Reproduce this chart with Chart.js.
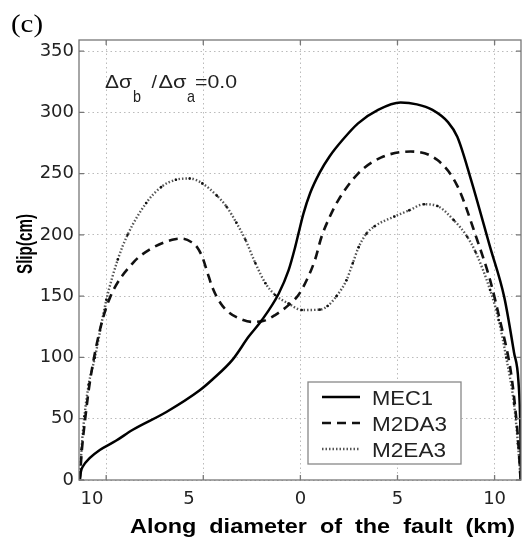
<!DOCTYPE html>
<html>
<head>
<meta charset="utf-8">
<script src="https://cdn.jsdelivr.net/npm/chart.js@4.4.0/dist/chart.umd.min.js"></script>
<style>
  html, body { margin: 0; padding: 0; background: #fff; }
  #wrap { width: 525px; height: 541px; }
</style>
</head>
<body>
<div id="wrap"><canvas id="slipChart" width="525" height="541"></canvas></div>
<script>
// along-diameter position (km) and slip (cm) for each model
const mec1X = [-11.36, -11.3, -11.2, -10.84, -10.33, -9.5, -8.63, -6.9, -5.2, -4.53, -3.5, -2.66, -1.98, -1.12, -0.61, -0.27, -0.1, 0.15, 0.5, 1.0, 1.5, 2.2, 2.97, 4.0, 5.16, 6.0, 6.8, 7.6, 8.08, 8.75, 9.77, 10.5, 11.0, 11.23, 11.33, 11.36];
const mec1Y = [0, 7, 11, 18, 24.5, 32, 41, 55.5, 73, 82, 98, 117, 130.5, 152, 171, 190, 201, 217, 234, 251, 264, 278, 291, 302, 308, 306.5, 302, 292, 280, 247, 190, 149, 104, 80, 40, 0];

const m2daX = [-11.36, -11.25, -11.08, -10.84, -10.33, -9.8, -8.63, -7.77, -6.6, -6.1, -5.6, -5.3, -5.05, -4.8, -4.53, -4.1, -3.7, -3.1, -2.5, -1.98, -1.3, -0.61, -0.1, 0.32, 0.75, 1.09, 1.52, 1.94, 2.97, 4.14, 5.67, 7.06, 8.08, 9.1, 9.77, 10.28, 10.8, 11.0, 11.2, 11.34];
const m2daY = [0, 25, 50, 80, 122, 149, 177, 188, 196, 197, 194, 189.5, 182, 170, 157, 144, 137, 131.5, 129, 129.5, 134.6, 142.7, 151, 163, 179.5, 198.5, 215, 228, 250, 263, 268, 261, 240, 196, 163, 130, 92, 68, 35, 0];

const m2eaX = [-11.36, -11.27, -11.12, -10.9, -10.58, -9.99, -9.4, -8.9, -7.94, -7.17, -6.41, -5.7, -5.05, -4.3, -3.8, -3.3, -2.83, -2.32, -1.8, -1.3, -0.61, 0.07, 1.0, 1.4, 1.86, 2.37, 2.7, 3.0, 3.4, 3.82, 4.84, 5.6, 6.37, 7.06, 7.9, 8.59, 9.02, 9.77, 10.21, 10.6, 11.0, 11.2, 11.34];
const m2eaY = [0, 25, 52, 78, 100, 147, 180, 200, 226, 239, 245, 246, 242, 232, 223, 210, 196, 177, 160.5, 151, 144, 138.7, 139, 142, 150, 163, 177, 190, 201, 207, 215, 220, 225, 223.5, 212, 198.5, 186, 155, 130.5, 100, 62, 30, 0];

const seriesNames = ['MEC1', 'M2DA3', 'M2EA3'];
const xTicks = [-10, -5, 0, 5, 10];
const yTicks = [0, 50, 100, 150, 200, 250, 300, 350];

const toPoints = (xs, ys) => xs.map((x, i) => ({ x, y: ys[i] }));

// draw text squeezed/stretched to a given width
const drawText = (ctx, str, x, y, font, width, align = 'left') => {
    ctx.save();
    ctx.font = font;
    const w = ctx.measureText(str).width;
    ctx.translate(x, y);
    ctx.scale(width ? width / w : 1, 1);
    ctx.textAlign = align;
    ctx.textBaseline = 'alphabetic';
    ctx.fillText(str, 0, 0);
    ctx.restore();
};

const framePlugin = {
    id: 'frame',
    afterDraw(chart) {
        const { ctx, chartArea: a, scales } = chart;
        ctx.save();
        ctx.strokeStyle = '#777';
        ctx.lineWidth = 1.3;
        ctx.strokeRect(a.left, a.top, a.right - a.left, a.bottom - a.top);
        ctx.beginPath();
        xTicks.forEach(v => {
            const px = scales.x.getPixelForValue(v);
            ctx.moveTo(px, a.bottom); ctx.lineTo(px, a.bottom - 5);
            ctx.moveTo(px, a.top); ctx.lineTo(px, a.top + 5);
        });
        yTicks.forEach(v => {
            const py = scales.y.getPixelForValue(v);
            ctx.moveTo(a.left, py); ctx.lineTo(a.left + 5, py);
            ctx.moveTo(a.right, py); ctx.lineTo(a.right - 5, py);
        });
        ctx.stroke();

        // legend box
        ctx.fillStyle = '#fff';
        ctx.fillRect(308, 382, 153, 82);
        ctx.strokeStyle = '#888';
        ctx.lineWidth = 1.3;
        ctx.strokeRect(308, 382, 153, 82);
        const rows = [397, 423, 449];
        const widths = [61, 75, 74];
        chart.data.datasets.forEach((ds, i) => {
            ctx.save();
            ctx.strokeStyle = ds.borderColor;
            ctx.lineWidth = ds.borderWidth;
            ctx.setLineDash(ds.borderDash || []);
            ctx.beginPath();
            ctx.moveTo(322, rows[i]);
            ctx.lineTo(360, rows[i]);
            ctx.stroke();
            ctx.restore();
            ctx.fillStyle = '#222';
            drawText(ctx, seriesNames[i], 372, rows[i] + 8, '21px "Liberation Sans", Arial', widths[i]);
        });

        // texts
        ctx.fillStyle = '#000';
        drawText(ctx, '(c)', 11, 32, '26px "Liberation Serif", "Times New Roman"', 32);
        drawText(ctx, 'Along  diameter  of  the  fault  (km)', 130, 533, 'bold 21px "Liberation Sans", Arial', 385);

        ctx.save();
        ctx.translate(32, 244);
        ctx.rotate(-Math.PI / 2);
        drawText(ctx, 'Slip(cm)', 0, 0, 'bold 22px "Liberation Sans", Arial', 60, 'center');
        ctx.restore();

        ctx.fillStyle = '#222';
        const f = '18px "Liberation Sans", Arial';
        const fs = '17px "Liberation Sans", Arial';
        drawText(ctx, 'Δσ', 105, 87.5, f, 27);
        drawText(ctx, 'b', 133, 102, fs, 8);
        drawText(ctx, '/', 151.5, 87.5, f, 5.5);
        drawText(ctx, 'Δσ', 158.5, 87.5, f, 28);
        drawText(ctx, 'a', 187, 102, fs, 8);
        drawText(ctx, '=0.0', 195, 87.5, f, 42);
        ctx.restore();
    }
};

const ctx = document.getElementById('slipChart').getContext('2d');
new Chart(ctx, {
    type: 'line',
    data: {
        datasets: [
            {
                label: seriesNames[0],
                data: toPoints(mec1X, mec1Y),
                borderColor: '#000',
                borderWidth: 2.5,
                pointRadius: 0,
                cubicInterpolationMode: 'monotone'
            },
            {
                label: seriesNames[1],
                data: toPoints(m2daX, m2daY),
                borderColor: '#111',
                borderWidth: 2.6,
                borderDash: [9, 6],
                pointRadius: 0,
                cubicInterpolationMode: 'monotone'
            },
            {
                label: seriesNames[2],
                data: toPoints(m2eaX, m2eaY),
                borderColor: '#555',
                borderWidth: 2.4,
                borderDash: [1.5, 2],
                pointRadius: 1.3,
                pointBorderWidth: 0,
                pointBackgroundColor: '#111',
                cubicInterpolationMode: 'monotone'
            }
        ]
    },
    options: {
        responsive: false,
        animation: false,
        layout: { padding: { top: 40, right: 1, left: 0, bottom: 0 } },
        plugins: { legend: { display: false }, tooltip: { enabled: false } },
        scales: {
            x: {
                type: 'linear',
                min: -11.4,
                max: 11.36,
                afterFit: (s) => { s.height = 61; },
                afterBuildTicks: (s) => { s.ticks = xTicks.map(v => ({ value: v })); },
                ticks: {
                    padding: 9,
                    color: '#222',
                    font: { family: 'DejaVu Sans', size: 18 },
                    maxRotation: 0,
                    callback: (v) => v < 0 ? Math.abs(v) + '\u2007\u2007 ' : String(v)
                },
                grid: { color: '#bbb', lineWidth: 1, drawTicks: false },
                border: { display: false, dash: [1.5, 3] }
            },
            y: {
                min: 0,
                max: 359,
                afterFit: (s) => { s.width = 79; },
                afterBuildTicks: (s) => { s.ticks = yTicks.map(v => ({ value: v })); },
                ticks: {
                    padding: 5,
                    color: '#222',
                    font: { family: 'DejaVu Sans', size: 18 }
                },
                grid: { color: '#bbb', lineWidth: 1, drawTicks: false },
                border: { display: false, dash: [1.5, 3] }
            }
        }
    },
    plugins: [framePlugin]
});
</script>
</body>
</html>
